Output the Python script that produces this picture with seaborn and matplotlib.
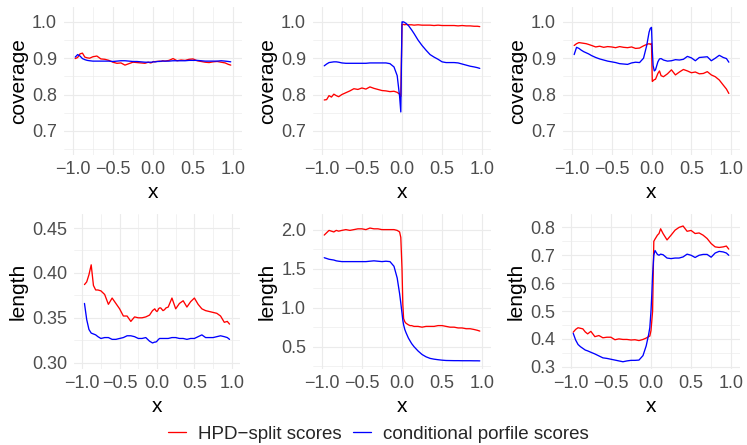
import numpy as np
import pandas as pd
import matplotlib
matplotlib.use("Agg")
import matplotlib.pyplot as plt
from matplotlib.lines import Line2D
from matplotlib.ticker import FixedLocator
import seaborn as sns

# ---------------- data ----------------
x_vals = [-0.97, -0.94, -0.91, -0.88, -0.85, -0.82, -0.79, -0.75, -0.7, -0.65,
          -0.6, -0.55, -0.5, -0.45, -0.4, -0.35, -0.3, -0.25, -0.2, -0.15,
          -0.1, -0.06, -0.03, -0.015, 0.0, 0.01, 0.02, 0.035, 0.05, 0.08,
          0.1, 0.12, 0.15, 0.2, 0.25, 0.3, 0.35, 0.4, 0.45, 0.5,
          0.55, 0.6, 0.65, 0.7, 0.75, 0.8, 0.85, 0.9, 0.94, 0.97]

series_names = ["HPD\u2212split scores", "conditional porfile scores"]

cov1_hpd = [0.899, 0.902, 0.912, 0.914, 0.903, 0.901, 0.900, 0.904, 0.906, 0.898,
            0.897, 0.894, 0.889, 0.886, 0.887, 0.881, 0.885, 0.889, 0.888, 0.887,
            0.886, 0.889, 0.887, 0.888, 0.890, 0.891, 0.890, 0.891, 0.891, 0.892,
            0.891, 0.893, 0.892, 0.894, 0.899, 0.893, 0.895, 0.894, 0.897, 0.898,
            0.893, 0.891, 0.889, 0.888, 0.890, 0.891, 0.889, 0.887, 0.883, 0.881]
cov1_cp = [0.903, 0.910, 0.906, 0.899, 0.896, 0.894, 0.893, 0.892, 0.892, 0.892,
           0.892, 0.892, 0.891, 0.892, 0.893, 0.893, 0.892, 0.891, 0.891, 0.890,
           0.889, 0.889, 0.889, 0.889, 0.890, 0.890, 0.890, 0.890, 0.891, 0.891,
           0.892, 0.892, 0.892, 0.892, 0.893, 0.893, 0.893, 0.893, 0.894, 0.894,
           0.894, 0.893, 0.892, 0.892, 0.892, 0.892, 0.893, 0.892, 0.891, 0.890]

cov2_hpd = [0.785, 0.786, 0.797, 0.793, 0.801, 0.797, 0.794, 0.800, 0.805, 0.810,
            0.816, 0.814, 0.818, 0.815, 0.821, 0.817, 0.814, 0.811, 0.810, 0.808,
            0.809, 0.806, 0.801, 0.795, 0.993, 0.993, 0.993, 0.992, 0.993, 0.992,
            0.992, 0.992, 0.991, 0.992, 0.991, 0.991, 0.991, 0.990, 0.991, 0.990,
            0.990, 0.990, 0.990, 0.989, 0.990, 0.989, 0.989, 0.988, 0.988, 0.987]
cov2_cp = [0.879, 0.884, 0.888, 0.889, 0.890, 0.890, 0.889, 0.887, 0.886, 0.886,
           0.886, 0.886, 0.886, 0.886, 0.887, 0.887, 0.887, 0.887, 0.887, 0.885,
           0.876, 0.852, 0.795, 0.752, 1.000, 1.000, 1.000, 0.998, 0.996, 0.990,
           0.984, 0.978, 0.968, 0.950, 0.935, 0.922, 0.910, 0.903, 0.897, 0.890,
           0.888, 0.888, 0.888, 0.887, 0.884, 0.881, 0.878, 0.876, 0.874, 0.872]

cov3_hpd = [0.935, 0.940, 0.943, 0.942, 0.941, 0.940, 0.938, 0.935, 0.931, 0.933,
            0.930, 0.932, 0.931, 0.929, 0.932, 0.930, 0.929, 0.931, 0.927, 0.928,
            0.934, 0.938, 0.940, 0.938, 0.941, 0.836, 0.838, 0.841, 0.842, 0.858,
            0.865, 0.852, 0.849, 0.857, 0.868, 0.854, 0.862, 0.869, 0.865, 0.860,
            0.862, 0.857, 0.858, 0.863, 0.854, 0.849, 0.840, 0.826, 0.815, 0.803]
cov3_cp = [0.910, 0.930, 0.927, 0.922, 0.918, 0.915, 0.912, 0.907, 0.902, 0.898,
           0.895, 0.892, 0.890, 0.888, 0.885, 0.884, 0.883, 0.887, 0.889, 0.888,
           0.900, 0.935, 0.972, 0.982, 0.985, 0.922, 0.880, 0.865, 0.868, 0.890,
           0.898, 0.899, 0.895, 0.892, 0.893, 0.896, 0.895, 0.897, 0.905, 0.901,
           0.893, 0.902, 0.903, 0.904, 0.893, 0.900, 0.908, 0.902, 0.899, 0.889]

len1_hpd = [0.387, 0.390, 0.398, 0.409, 0.386, 0.381, 0.381, 0.380, 0.376, 0.365,
            0.372, 0.366, 0.360, 0.352, 0.352, 0.346, 0.351, 0.350, 0.350, 0.351,
            0.353, 0.358, 0.360, 0.358, 0.357, 0.358, 0.360, 0.361, 0.361, 0.358,
            0.359, 0.361, 0.362, 0.372, 0.360, 0.366, 0.369, 0.362, 0.368, 0.372,
            0.365, 0.360, 0.358, 0.357, 0.356, 0.355, 0.352, 0.345, 0.346, 0.343]
len1_cp = [0.366, 0.348, 0.337, 0.333, 0.332, 0.331, 0.329, 0.327, 0.328, 0.328,
           0.326, 0.326, 0.327, 0.328, 0.330, 0.330, 0.329, 0.327, 0.327, 0.328,
           0.324, 0.322, 0.323, 0.323, 0.324, 0.325, 0.326, 0.327, 0.327, 0.327,
           0.327, 0.327, 0.327, 0.328, 0.328, 0.327, 0.327, 0.326, 0.327, 0.327,
           0.329, 0.331, 0.328, 0.328, 0.328, 0.329, 0.330, 0.329, 0.328, 0.326]

len2_hpd = [1.93, 1.96, 1.99, 1.98, 1.97, 1.99, 1.98, 1.99, 2.00, 1.99,
            2.00, 2.01, 2.01, 2.00, 2.02, 2.01, 2.01, 2.00, 2.00, 2.00,
            2.00, 1.99, 1.97, 1.90, 1.50, 1.05, 0.86, 0.82, 0.80, 0.78,
            0.77, 0.77, 0.76, 0.76, 0.75, 0.76, 0.76, 0.76, 0.77, 0.77,
            0.76, 0.75, 0.75, 0.74, 0.74, 0.73, 0.73, 0.72, 0.71, 0.70]
len2_cp = [1.64, 1.63, 1.62, 1.615, 1.61, 1.60, 1.595, 1.59, 1.59, 1.59,
           1.59, 1.59, 1.59, 1.59, 1.595, 1.60, 1.595, 1.59, 1.595, 1.59,
           1.53, 1.38, 1.18, 1.06, 0.93, 0.84, 0.78, 0.72, 0.68, 0.61,
           0.575, 0.54, 0.50, 0.445, 0.40, 0.37, 0.35, 0.34, 0.333, 0.327,
           0.323, 0.322, 0.321, 0.321, 0.320, 0.320, 0.320, 0.319, 0.319, 0.318]

len3_hpd = [0.424, 0.434, 0.440, 0.438, 0.436, 0.425, 0.418, 0.427, 0.408, 0.412,
            0.404, 0.406, 0.406, 0.397, 0.400, 0.398, 0.398, 0.396, 0.397, 0.394,
            0.398, 0.403, 0.408, 0.410, 0.430, 0.465, 0.500, 0.750, 0.758, 0.772,
            0.778, 0.795, 0.778, 0.755, 0.772, 0.790, 0.800, 0.805, 0.786, 0.789,
            0.778, 0.780, 0.772, 0.760, 0.742, 0.730, 0.728, 0.730, 0.733, 0.722]
len3_cp = [0.420, 0.396, 0.380, 0.372, 0.366, 0.360, 0.357, 0.352, 0.346, 0.339,
           0.332, 0.330, 0.327, 0.324, 0.321, 0.318, 0.321, 0.323, 0.323, 0.324,
           0.340, 0.375, 0.415, 0.440, 0.500, 0.560, 0.630, 0.700, 0.717, 0.703,
           0.700, 0.704, 0.702, 0.690, 0.688, 0.690, 0.690, 0.694, 0.704, 0.700,
           0.692, 0.700, 0.703, 0.703, 0.693, 0.708, 0.714, 0.712, 0.708, 0.700]

x_ticks = [-1.0, -0.5, 0.0, 0.5, 1.0]
x_tick_labels = ["\u22121.0", "\u22120.5", "0.0", "0.5", "1.0"]

cov_ticks = [0.7, 0.8, 0.9, 1.0]
cov_tick_labels = ["0.7", "0.8", "0.9", "1.0"]
len1_ticks = [0.30, 0.35, 0.40, 0.45]
len1_tick_labels = ["0.30", "0.35", "0.40", "0.45"]
len2_ticks = [0.5, 1.0, 1.5, 2.0]
len2_tick_labels = ["0.5", "1.0", "1.5", "2.0"]
len3_ticks = [0.3, 0.4, 0.5, 0.6, 0.7, 0.8]
len3_tick_labels = ["0.3", "0.4", "0.5", "0.6", "0.7", "0.8"]

# ---------------- style ----------------
sns.set_theme(style="whitegrid")
plt.rcParams["font.family"] = ["Liberation Sans", "DejaVu Sans"]
plt.rcParams["axes.unicode_minus"] = True

RED = "#FF0000"
BLUE = "#0000FF"
GRID = "#EBEBEB"
TICK_COLOR = "#4D4D4D"
LW = 0.95

W, H = 747, 445
fig = plt.figure(figsize=(W / 100, H / 100), dpi=100)
fig.patch.set_facecolor("white")

def rect(x0, y0, x1, y1):
    return [x0 / W, 1 - y1 / H, (x1 - x0) / W, (y1 - y0) / H]

panels = [
    (rect(64, 7, 242, 155), cov1_hpd, cov1_cp, "coverage", (0.6335, 1.041),
     cov_ticks, cov_tick_labels, [0.65, 0.75, 0.85, 0.95]),
    (rect(313, 7, 491, 155), cov2_hpd, cov2_cp, "coverage", (0.6335, 1.041),
     cov_ticks, cov_tick_labels, [0.65, 0.75, 0.85, 0.95]),
    (rect(563, 7, 740, 155), cov3_hpd, cov3_cp, "coverage", (0.6335, 1.041),
     cov_ticks, cov_tick_labels, [0.65, 0.75, 0.85, 0.95]),
    (rect(74, 214, 240, 369), len1_hpd, len1_cp, "length", (0.293, 0.4656),
     len1_ticks, len1_tick_labels, [0.325, 0.375, 0.425]),
    (rect(313, 214, 491, 369), len2_hpd, len2_cp, "length", (0.214, 2.2),
     len2_ticks, len2_tick_labels, [0.25, 0.75, 1.25, 1.75]),
    (rect(562, 214, 740, 369), len3_hpd, len3_cp, "length", (0.292, 0.848),
     len3_ticks, len3_tick_labels, [0.35, 0.45, 0.55, 0.65, 0.75]),
]

for pos, y_hpd, y_cp, ylab, ylim, yt, ytl, yminor in panels:
    ax = fig.add_axes(pos)
    ax.set_facecolor("white")
    df = pd.DataFrame({
        "x": x_vals * 2,
        "value": y_hpd + y_cp,
        "method": [series_names[0]] * len(x_vals) + [series_names[1]] * len(x_vals),
    })
    sns.lineplot(data=df, x="x", y="value", hue="method",
                 palette={series_names[0]: RED, series_names[1]: BLUE},
                 linewidth=LW, ax=ax, legend=False, sort=True)
    ax.set_xlim(-1.11, 1.11)
    ax.set_ylim(*ylim)
    ax.set_xticks(x_ticks)
    ax.set_xticklabels(x_tick_labels)
    ax.set_yticks(yt)
    ax.set_yticklabels(ytl)
    ax.xaxis.set_minor_locator(FixedLocator([-0.75, -0.25, 0.25, 0.75]))
    ax.yaxis.set_minor_locator(FixedLocator(yminor))
    ax.grid(True, which="major", color=GRID, linewidth=0.85)
    ax.grid(True, which="minor", color=GRID, linewidth=0.45)
    ax.set_axisbelow(True)
    for s in ax.spines.values():
        s.set_visible(False)
    ax.tick_params(axis="both", which="both", length=0, labelsize=13,
                   labelcolor=TICK_COLOR)
    ax.tick_params(axis="x", pad=4.5)
    ax.tick_params(axis="y", pad=5)
    ax.set_xlabel("x", fontsize=15, color="black", labelpad=3.5)
    ax.set_ylabel(ylab, fontsize=15, color="black", labelpad=3)

handles = [Line2D([0], [0], color=RED, lw=LW), Line2D([0], [0], color=BLUE, lw=LW)]
fig.legend(handles, series_names, loc="center", bbox_to_anchor=(378 / W, 1 - 434 / H),
           ncol=2, frameon=False, fontsize=13.5, handlelength=1.0,
           handletextpad=0.6, columnspacing=0.6, borderaxespad=0, borderpad=0)

fig.savefig("out.png", dpi=100, facecolor="white")
